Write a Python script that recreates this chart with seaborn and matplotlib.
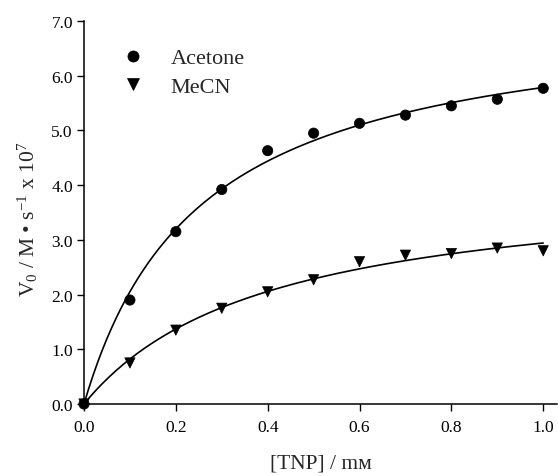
import numpy as np
import pandas as pd
import matplotlib
matplotlib.use("Agg")
import matplotlib.pyplot as plt
import seaborn as sns

# [TNP] in mM and initial rates (M s^-1 x 10^7)
tnp = [0.0, 0.1, 0.2, 0.3, 0.4, 0.5, 0.6, 0.7, 0.8, 0.9, 1.0]
acetone = [0.0, 1.90, 3.15, 3.92, 4.63, 4.95, 5.13, 5.28, 5.45, 5.57, 5.77]
mecn = [0.0, 0.75, 1.35, 1.75, 2.05, 2.27, 2.60, 2.72, 2.75, 2.85, 2.80]


# Michaelis-Menten least squares fit: grid over Km, Vmax solved directly
def fit_mm(x, y):
    x = np.asarray(x)
    y = np.asarray(y)
    best = None
    for km in np.linspace(0.01, 3.0, 3000):
        f = x / (km + x)
        vmax = (y * f).sum() / (f * f).sum()
        err = ((y - vmax * f) ** 2).sum()
        if best is None or err < best[0]:
            best = (err, vmax, km)
    return best[1], best[2]


sns.set_style("ticks")
plt.rcParams['font.family'] = ['Liberation Serif', 'DejaVu Serif']
plt.rcParams['mathtext.fontset'] = 'custom'
plt.rcParams['mathtext.rm'] = 'Liberation Serif'
plt.rcParams['mathtext.it'] = 'Liberation Serif:italic'

fig = plt.figure(figsize=(5.58, 4.77), dpi=100)
ax = fig.add_axes([84 / 558, 72 / 477, 473 / 558, 383 / 477])

xs = np.linspace(0, 1.0, 200)
for vals in [acetone, mecn]:
    vmax, km = fit_mm(tnp, vals)
    sns.lineplot(x=xs, y=vmax * xs / (km + xs), color='black', lw=1.2, ax=ax)

df = pd.DataFrame({'x': tnp * 2,
                   'y': acetone + mecn,
                   'solvent': ['Acetone'] * len(tnp) + ['MeCN'] * len(tnp)})
sns.scatterplot(data=df, x='x', y='y', style='solvent', markers={'Acetone': 'o', 'MeCN': 'v'},
                color='black', s=55, edgecolor='black', linewidth=0.5, ax=ax, zorder=3, clip_on=False)

ax.set_xlim(0, 1.03)
ax.set_ylim(0, 7.0)
ax.set_xticks([0.0, 0.2, 0.4, 0.6, 0.8, 1.0])
ax.set_xticklabels(['0.0', '0.2', '0.4', '0.6', '0.8', '1.0'])
ax.set_yticks(np.arange(0, 7.5, 1.0))
ax.set_yticklabels(['%.1f' % v for v in np.arange(0, 7.5, 1.0)])
ax.tick_params(direction='out', length=5, width=1.0, pad=3, labelsize=12.5, colors='black')
ax.tick_params(axis='x', pad=6)
for side in ['left', 'bottom']:
    ax.spines[side].set_linewidth(1.1)
    ax.spines[side].set_color('black')
sns.despine(ax=ax)

ax.set_xlabel('[TNP] / m\u1d0d', fontsize=15.5)
ax.xaxis.set_label_coords(0.5, -0.13)
ax.set_ylabel('V$_0$ / M \u2022 s$^{-1}$ x 10$^7$', fontsize=15.5)
ax.yaxis.set_label_coords(-0.094, 0.485)

leg = ax.legend(loc='upper left', bbox_to_anchor=(0.014, 0.982), frameon=False, fontsize=16,
                handletextpad=0.7, labelspacing=0.35, title=None)
for h in leg.legend_handles:
    h.set_markersize(8)

fig.savefig('out.png', dpi=100)
